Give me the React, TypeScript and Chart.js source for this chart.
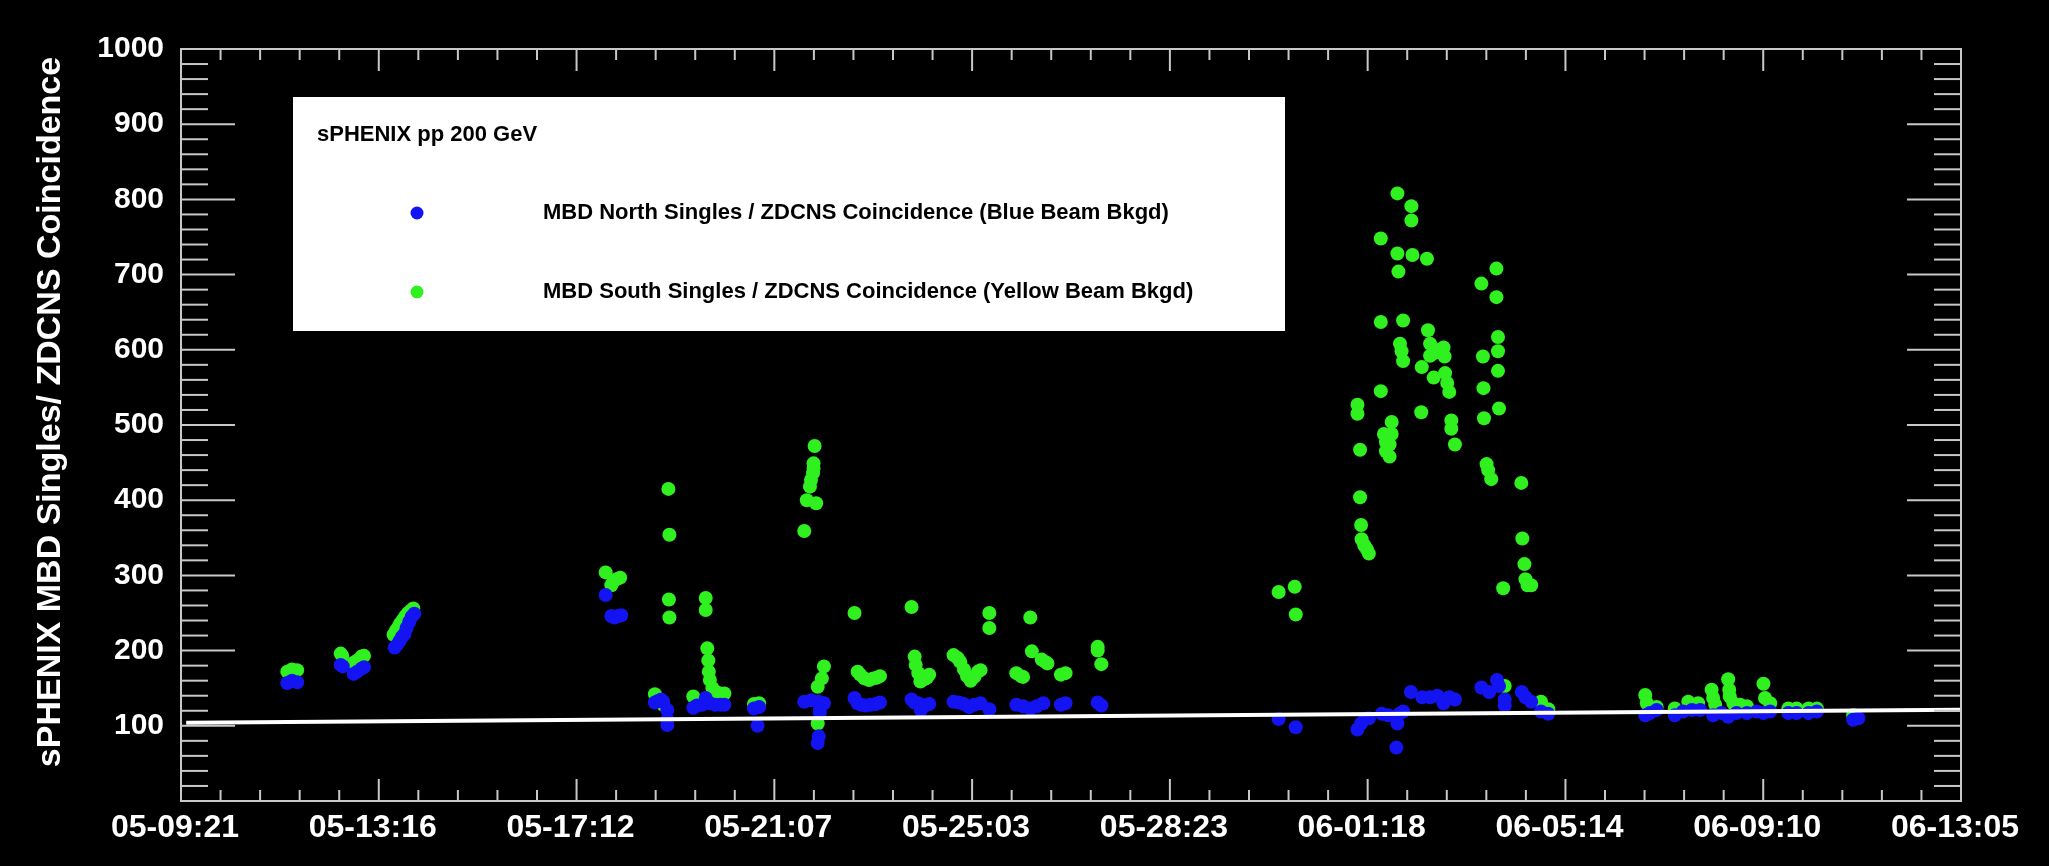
import React, { useEffect, useRef } from 'react';
import { Chart, registerables } from 'chart.js';

Chart.register(...registerables);

// ---- data (x = days since 05-09 21:00, y = singles / coincidence ratio) ----
const TICK_LABELS = ['05-09:21', '05-13:16', '05-17:12', '05-21:07', '05-25:03', '05-28:23', '06-01:18', '06-05:14', '06-09:10', '06-13:05'];
const X_SPAN_DAYS = 34.33;
const Y_MIN = 0;
const Y_MAX = 1000;
const Y_STEP = 100;

const Y_TITLE = 'sPHENIX MBD Singles/ ZDCNS Coincidence';
const LEGEND_TITLE = 'sPHENIX pp 200 GeV';
const NORTH_LABEL = 'MBD North Singles / ZDCNS Coincidence (Blue Beam Bkgd)';
const SOUTH_LABEL = 'MBD South Singles / ZDCNS Coincidence (Yellow Beam Bkgd)';

const NORTH_POINTS: number[][] = [
  [2.05, 157], [2.14, 160], [2.24, 158],
  [3.08, 181], [3.12, 179], [3.33, 169], [3.4, 172], [3.48, 176], [3.53, 178],
  [4.12, 204], [4.17, 208], [4.22, 213], [4.26, 218], [4.31, 222], [4.35, 230], [4.4, 238], [4.45, 245], [4.5, 249],
  [8.19, 274], [8.3, 246], [8.36, 244], [8.43, 246], [8.49, 247],
  [9.14, 131], [9.2, 133], [9.26, 135], [9.3, 132], [9.38, 121], [9.38, 108], [9.38, 101],
  [9.88, 124], [9.95, 127], [10.05, 128], [10.12, 137], [10.2, 130], [10.3, 128], [10.4, 128], [10.48, 128],
  [11.05, 123], [11.15, 125], [11.12, 100],
  [12.02, 132], [12.15, 134], [12.3, 132], [12.4, 130], [12.32, 121], [12.32, 117], [12.3, 86], [12.28, 77],
  [12.99, 137], [13.05, 130], [13.12, 128], [13.2, 127], [13.3, 128], [13.4, 129], [13.48, 131],
  [14.09, 135], [14.15, 131], [14.22, 130], [14.27, 121], [14.35, 127], [14.43, 129],
  [14.9, 132], [15.0, 131], [15.1, 129], [15.2, 125], [15.3, 128], [15.42, 130], [15.59, 122],
  [16.11, 128], [16.24, 126], [16.38, 123], [16.5, 126], [16.63, 130], [16.97, 128], [17.06, 130],
  [17.68, 131], [17.75, 127],
  [21.17, 109], [21.5, 98],
  [22.69, 95], [22.76, 103], [22.83, 109], [22.91, 110], [23.16, 116], [23.28, 114], [23.46, 103], [23.5, 116], [23.57, 119], [23.44, 71],
  [23.72, 145], [23.94, 138], [24.09, 138], [24.23, 140], [24.35, 130], [24.46, 138], [24.57, 135],
  [25.08, 151], [25.23, 145], [25.38, 161], [25.42, 153], [25.53, 135], [25.53, 127],
  [25.86, 145], [25.93, 138], [26.04, 132], [26.23, 119], [26.37, 116],
  [28.24, 114], [28.33, 117], [28.46, 121], [28.81, 114], [28.97, 119], [29.14, 121], [29.3, 121],
  [29.55, 114], [29.71, 117], [29.84, 112], [30.0, 117], [30.2, 117], [30.39, 119], [30.52, 117], [30.65, 119],
  [31.0, 117], [31.16, 117], [31.39, 117], [31.55, 119], [32.25, 108], [32.35, 110],
];

const SOUTH_POINTS: number[][] = [
  [2.05, 172], [2.14, 175], [2.24, 174],
  [3.08, 196], [3.11, 193], [3.33, 184], [3.4, 187], [3.48, 192], [3.53, 193],
  [4.1, 221], [4.14, 226], [4.19, 231], [4.23, 236], [4.28, 241], [4.33, 246], [4.38, 250], [4.43, 253], [4.48, 256],
  [8.19, 304], [8.3, 287], [8.34, 292], [8.4, 295], [8.47, 297],
  [9.14, 142], [9.2, 136], [9.3, 128], [9.4, 415], [9.42, 354], [9.41, 268], [9.42, 244],
  [9.88, 139], [10.12, 270], [10.12, 254], [10.15, 203], [10.17, 187], [10.18, 172], [10.2, 161], [10.25, 150], [10.32, 145], [10.4, 143], [10.48, 143],
  [11.05, 129], [11.15, 130],
  [12.02, 359], [12.07, 400], [12.13, 418], [12.15, 427], [12.19, 436], [12.2, 442], [12.2, 449], [12.22, 472], [12.25, 396],
  [12.28, 103], [12.28, 152], [12.36, 163], [12.4, 179],
  [12.99, 250], [13.05, 172], [13.1, 168], [13.18, 163], [13.27, 161], [13.35, 163], [13.42, 164], [13.48, 166],
  [14.09, 258], [14.15, 192], [14.17, 181], [14.22, 170], [14.26, 159], [14.33, 162], [14.39, 164], [14.43, 168],
  [14.9, 194], [14.98, 190], [15.03, 185], [15.1, 175], [15.16, 166], [15.23, 160], [15.3, 165], [15.37, 172], [15.42, 174], [15.59, 250], [15.59, 230],
  [16.11, 170], [16.2, 166], [16.24, 165], [16.38, 244], [16.41, 199], [16.6, 188], [16.67, 185], [16.71, 183], [16.97, 168], [17.06, 170],
  [17.68, 205], [17.68, 200], [17.75, 182],
  [21.17, 278], [21.48, 285], [21.5, 248],
  [23.46, 808], [23.73, 791], [23.73, 772], [23.14, 748], [23.46, 728], [23.75, 726], [24.03, 721], [23.48, 704],
  [25.37, 708], [25.08, 688], [25.37, 670], [23.14, 637], [23.57, 639], [24.05, 626],
  [23.51, 608], [23.54, 598], [23.57, 585], [24.09, 608], [24.15, 595], [24.23, 600], [24.35, 603], [24.37, 591], [24.09, 592],
  [23.93, 577], [24.16, 563], [24.38, 569], [24.42, 556], [24.46, 544],
  [25.4, 617], [25.4, 598], [25.4, 572], [25.11, 591], [25.12, 549], [25.13, 509], [25.42, 522],
  [23.14, 545], [23.92, 517], [24.5, 506], [24.5, 495], [24.57, 474],
  [22.69, 527], [22.69, 515], [23.35, 504], [23.2, 488], [23.35, 488], [23.24, 477], [23.31, 474], [23.24, 465], [23.31, 458],
  [22.74, 467], [22.74, 404], [22.76, 367], [22.77, 348], [22.82, 340], [22.87, 335], [22.91, 329],
  [25.18, 448], [25.21, 440], [25.27, 428], [25.85, 423], [25.87, 349], [25.91, 315], [25.93, 295], [25.97, 287], [26.04, 287],
  [25.5, 283], [25.53, 153], [26.23, 132], [26.37, 122],
  [28.24, 141], [28.27, 130], [28.46, 125], [28.81, 123], [29.07, 132], [29.26, 130],
  [29.52, 148], [29.55, 137], [29.59, 128], [29.84, 162], [29.86, 148], [29.87, 139], [29.94, 130], [30.07, 128], [30.2, 126],
  [30.52, 156], [30.55, 137], [30.65, 130], [31.0, 123], [31.16, 123], [31.39, 123], [31.55, 123], [32.25, 114],
];

const FIT_LINE: number[][] = [[0.1, 104], [34.33, 121.5]];

// ---- styles ----
const FONT = "'Liberation Sans', Arial, Helvetica, sans-serif";
const BLUE = '#1414f2';
const GREEN = '#30f020';
const AXIS_COLOR = '#c8c8c8';
const Y_TITLE_SHIFT = 13;

const toXY = (pts: number[][]) => pts.map(([x, y]) => ({ x, y }));

// nudges the y-axis title upward (scale geometry for ticks is already configured)
const titleShiftPlugin = {
  id: 'titleShift',
  afterLayout(chart: any) {
    const ys = chart.scales.y;
    if (ys) {
      ys.top -= Y_TITLE_SHIFT;
      ys.bottom -= Y_TITLE_SHIFT;
    }
  },
};

const frameTicksPlugin = {
  id: 'frameTicks',
  afterDatasetsDraw(chart: any) {
    const { ctx, chartArea } = chart;
    const { left, right, top, bottom } = chartArea;
    const xs = chart.scales.x;
    const ys = chart.scales.y;
    ctx.save();
    ctx.strokeStyle = AXIS_COLOR;
    ctx.lineWidth = 2;
    ctx.strokeRect(left, top, right - left, bottom - top);
    const seg = (x1: number, y1: number, x2: number, y2: number) => {
      ctx.beginPath();
      ctx.moveTo(x1, y1);
      ctx.lineTo(x2, y2);
      ctx.stroke();
    };
    const xt = xs.ticks.map((t: any) => t.value);
    for (let i = 0; i < xt.length; i++) {
      const px = xs.getPixelForValue(xt[i]);
      seg(px, bottom, px, bottom - 22);
      seg(px, top, px, top + 22);
      if (i < xt.length - 1) {
        for (let k = 1; k < 5; k++) {
          const v = xt[i] + ((xt[i + 1] - xt[i]) * k) / 5;
          const p = xs.getPixelForValue(v);
          seg(p, bottom, p, bottom - 11);
          seg(p, top, p, top + 11);
        }
      }
    }
    const yt = ys.ticks.map((t: any) => t.value);
    for (let i = 0; i < yt.length; i++) {
      const py = ys.getPixelForValue(yt[i]);
      seg(left, py, left + 54, py);
      seg(right, py, right - 54, py);
      if (i < yt.length - 1) {
        for (let k = 1; k < 5; k++) {
          const v = yt[i] + ((yt[i + 1] - yt[i]) * k) / 5;
          const p = ys.getPixelForValue(v);
          seg(left, p, left + 27, p);
          seg(right, p, right - 27, p);
        }
      }
    }
    ctx.restore();
  },
};

const legendBoxPlugin = {
  id: 'legendBox',
  afterDatasetsDraw(chart: any) {
    const { ctx } = chart;
    ctx.save();
    ctx.fillStyle = '#ffffff';
    ctx.fillRect(293, 97, 992, 234);
    ctx.fillStyle = '#000000';
    ctx.font = `bold 22px ${FONT}`;
    ctx.textBaseline = 'middle';
    ctx.textAlign = 'left';
    ctx.fillText(LEGEND_TITLE, 317, 135);
    const entries = chart.data.datasets.filter((d: any) => d.label === NORTH_LABEL || d.label === SOUTH_LABEL);
    entries.forEach((d: any, i: number) => {
      const cy = 213 + i * 79;
      ctx.beginPath();
      ctx.fillStyle = d.backgroundColor;
      ctx.arc(417, cy, 6.5, 0, Math.PI * 2);
      ctx.fill();
      ctx.fillStyle = '#000000';
      ctx.fillText(d.label, 543, cy);
    });
    ctx.restore();
  },
};

export default function App() {
  const canvasRef = useRef<HTMLCanvasElement | null>(null);

  useEffect(() => {
    document.body.style.margin = '0';
    document.body.style.background = '#000';
    const canvas = canvasRef.current;
    if (!canvas) return;
    const step = X_SPAN_DAYS / (TICK_LABELS.length - 1);
    const chart = new Chart(canvas, {
      type: 'scatter',
      data: {
        datasets: [
          {
            type: 'line',
            label: 'fit',
            data: toXY(FIT_LINE),
            borderColor: '#ffffff',
            borderWidth: 4,
            pointRadius: 0,
            fill: false,
            order: 0,
          } as any,
          {
            label: NORTH_LABEL,
            data: toXY(NORTH_POINTS),
            backgroundColor: BLUE,
            borderWidth: 0,
            pointRadius: 7,
            order: 1,
          },
          {
            label: SOUTH_LABEL,
            data: toXY(SOUTH_POINTS),
            backgroundColor: GREEN,
            borderWidth: 0,
            pointRadius: 7,
            order: 2,
          },
        ],
      },
      options: {
        animation: false,
        responsive: false,
        devicePixelRatio: 1,
        layout: { padding: { top: 49, right: 88, left: 0, bottom: 0 } },
        plugins: { legend: { display: false }, tooltip: { enabled: false } },
        scales: {
          x: {
            type: 'linear',
            min: 0,
            max: X_SPAN_DAYS,
            afterBuildTicks: (scale: any) => {
              scale.ticks = TICK_LABELS.map((_, i) => ({ value: i * step }));
            },
            afterFit: (scale: any) => {
              scale.height = 65;
            },
            grid: { display: false, drawTicks: false },
            border: { display: false },
            ticks: {
              autoSkip: false,
              maxRotation: 0,
              minRotation: 0,
              padding: 8,
              labelOffset: -6,
              color: '#ffffff',
              font: { family: FONT, size: 32, weight: 'bold' },
              callback: (_v: any, i: number) => TICK_LABELS[i],
            },
          },
          y: {
            type: 'linear',
            min: Y_MIN,
            max: Y_MAX,
            afterFit: (scale: any) => {
              scale.width = 181;
            },
            grid: { display: false, drawTicks: false },
            border: { display: false },
            title: {
              display: true,
              text: Y_TITLE,
              color: '#ffffff',
              font: { family: FONT, size: 34, weight: 'bold' },
              padding: { top: 30, bottom: 0 },
            },
            ticks: {
              stepSize: Y_STEP,
              padding: 17,
              color: '#ffffff',
              font: { family: FONT, size: 30, weight: 'bold' },
              callback: (v: any) => (v === 0 ? '' : String(v)),
            },
          },
        },
      },
      plugins: [titleShiftPlugin, frameTicksPlugin, legendBoxPlugin],
    });
    return () => chart.destroy();
  }, []);

  return (
    <div style={{ position: 'fixed', left: 0, top: 0, width: 2049, height: 866, background: '#000' }}>
      <canvas ref={canvasRef} width={2049} height={866} />
    </div>
  );
}
